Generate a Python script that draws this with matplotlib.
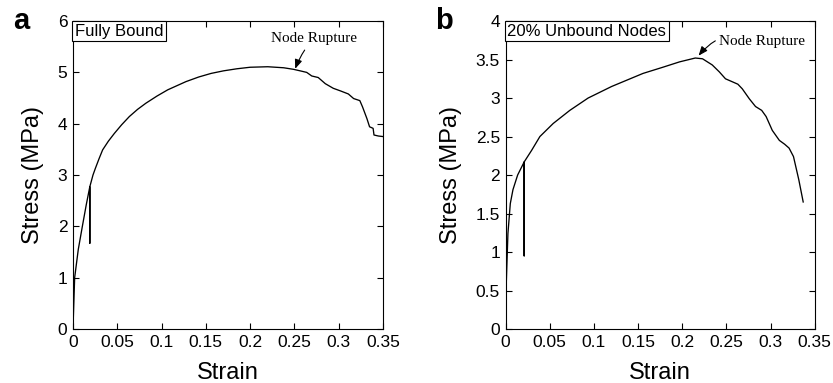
import matplotlib.pyplot as plt
from matplotlib.ticker import MultipleLocator, FuncFormatter

plt.rcParams['font.family'] = ['Liberation Sans', 'DejaVu Sans']

# panel a: fully bound network (strain, stress in MPa)
strain_a = [0, 0.0019, 0.0060, 0.0106, 0.015, 0.019, 0.019, 0.019, 0.0226, 0.0253,
            0.0295, 0.0335, 0.040, 0.0467, 0.055, 0.0637, 0.0730, 0.0824, 0.095, 0.107,
            0.1276, 0.142, 0.156, 0.17, 0.185, 0.2, 0.22, 0.238,
            0.249, 0.2566, 0.264, 0.2697, 0.277, 0.285, 0.294, 0.302, 0.311, 0.317,
            0.324, 0.327, 0.332, 0.335, 0.339, 0.340, 0.345, 0.35]
stress_a = [0, 1.0, 1.55, 2.0, 2.42, 2.77, 1.67, 2.77, 3.0, 3.13,
            3.32, 3.49, 3.66, 3.81, 3.98, 4.14, 4.28, 4.40, 4.54, 4.66,
            4.82, 4.91, 4.98, 5.03, 5.07, 5.1, 5.11, 5.09,
            5.06, 5.03, 5.0, 4.93, 4.9, 4.78, 4.69, 4.64, 4.58, 4.49,
            4.45, 4.33, 4.10, 3.94, 3.91, 3.78, 3.76, 3.75]

# panel b: 20% unbound nodes
strain_b = [0, 0.00075, 0.0026, 0.0053, 0.0083, 0.0136, 0.021, 0.021, 0.021, 0.0294,
            0.0388, 0.0539, 0.0727, 0.0934, 0.12, 0.1556, 0.178, 0.197, 0.2148, 0.223,
            0.234, 0.242, 0.249, 0.263, 0.268, 0.276, 0.283, 0.290, 0.295, 0.302,
            0.31, 0.316, 0.321, 0.326, 0.332, 0.337]
stress_b = [0, 0.6, 1.24, 1.63, 1.81, 2.0, 2.17, 0.95, 2.17, 2.32,
            2.50, 2.67, 2.84, 3.0, 3.15, 3.32, 3.40, 3.47, 3.52, 3.51,
            3.43, 3.34, 3.25, 3.18, 3.12, 2.99, 2.89, 2.84, 2.76, 2.58,
            2.45, 2.40, 2.35, 2.24, 1.94, 1.65]

fig = plt.figure(figsize=(8.33, 3.83), dpi=100)
ax_a = fig.add_axes([0.0876, 0.141, 0.372, 0.804])
ax_b = fig.add_axes([0.607, 0.141, 0.371, 0.804])

fmt = FuncFormatter(lambda v, p: '%g' % round(v, 3))

for ax, x, y, ymax, ystep in [(ax_a, strain_a, stress_a, 6, 1), (ax_b, strain_b, stress_b, 4, 0.5)]:
    ax.plot(x, y, color='black', lw=0.95)
    ax.set_xlim(0, 0.35)
    ax.set_ylim(0, ymax)
    ax.xaxis.set_major_locator(MultipleLocator(0.05))
    ax.yaxis.set_major_locator(MultipleLocator(ystep))
    ax.xaxis.set_major_formatter(fmt)
    ax.yaxis.set_major_formatter(fmt)
    ax.tick_params(direction='in', top=True, right=True, length=4, width=0.8,
                   labelsize=12.5, pad=4)
    for s in ax.spines.values():
        s.set_linewidth(0.8)
    ax.set_xlabel('Strain', fontsize=17, labelpad=9)
    ax.set_ylabel('Stress (MPa)', fontsize=17, labelpad=10)

box = dict(boxstyle='square,pad=0.15', fc='white', ec='black', lw=0.8)
ax_a.text(0.006, 0.992, 'Fully Bound', transform=ax_a.transAxes, ha='left', va='top',
          fontsize=12, bbox=box)
ax_b.text(0.006, 0.992, '20% Unbound Nodes', transform=ax_b.transAxes, ha='left', va='top',
          fontsize=12, bbox=box)

ax_a.annotate('Node Rupture', xy=(0.251, 5.07), xytext=(0.272, 5.66),
              ha='center', va='center', family='Liberation Serif', fontsize=11,
              arrowprops=dict(arrowstyle='-|>,head_length=0.5,head_width=0.2', color='black',
                              lw=0.8, connectionstyle='arc3,rad=0.1', shrinkA=2, shrinkB=0))
ax_b.annotate('Node Rupture', xy=(0.2185, 3.55), xytext=(0.242, 3.73),
              ha='left', va='center', family='Liberation Serif', fontsize=11,
              arrowprops=dict(arrowstyle='-|>,head_length=0.5,head_width=0.2', color='black',
                              lw=0.8, connectionstyle='arc3,rad=0.4', shrinkA=1, shrinkB=0))

fig.text(0.025, 0.925, 'a', fontsize=21, fontweight='bold', ha='center', va='baseline')
fig.text(0.533, 0.925, 'b', fontsize=21, fontweight='bold', ha='center', va='baseline')

fig.savefig('out.png', dpi=100)
